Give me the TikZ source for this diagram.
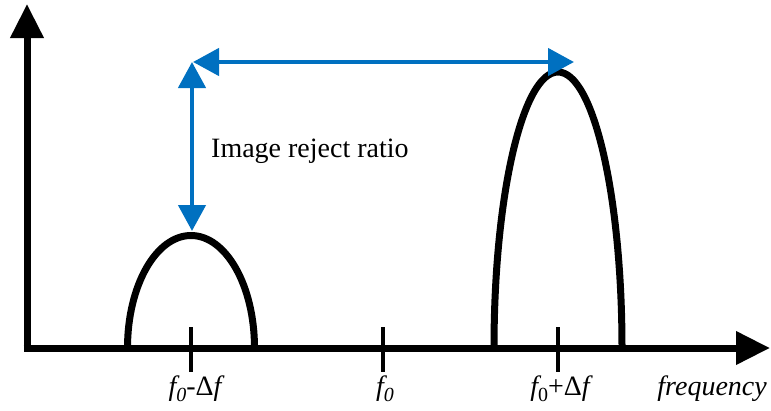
\documentclass[tikz,border=0pt]{standalone}
\usepackage{fontspec}
\setmainfont{Liberation Serif}
\usetikzlibrary{arrows.meta}
\definecolor{irblue}{HTML}{0070C0}
\tikzset{
  axisline/.style={line width=7pt,-{Triangle[length=34pt,width=32pt]}},
  lobe/.style={line width=7pt},
  tickmark/.style={line width=4pt},
  bluearrow/.style={irblue,line width=4.5pt,{Triangle[length=26pt,width=27pt]}-{Triangle[length=26pt,width=27pt]}},
  lbl/.style={font=\fontsize{28}{32}\selectfont,inner sep=0pt}
}
\newcommand{\fzero}{{\itshape f}\raisebox{-0.22em}{\fontsize{20}{22}\selectfont\itshape 0}}
\begin{document}
\begin{tikzpicture}[x=1pt,y=-1pt]
\useasboundingbox (0,0) rectangle (771,410);
% axes
\coordinate (O) at (27,348);
\coordinate (Ytip) at (27,4);
\coordinate (Xtip) at (770,348);
\draw[axisline] (27,351.5) -- (Ytip);
\draw[axisline] (23.5,348) -- (Xtip);
% ticks
\foreach \n/\x in {a/191,b/383,c/558}{
  \draw[tickmark] (\x,327) -- (\x,372);
}
% lobes
\draw[lobe] (127.5,348) arc[start angle=180,end angle=360,x radius=63.5,y radius=112.5];
\draw[lobe] (494,348) arc[start angle=180,end angle=360,x radius=64,y radius=276];
% blue arrows
\coordinate (corner) at (192,62);
\coordinate (lowpeak) at (192,231);
\coordinate (highpeak) at (574,62);
\draw[bluearrow] (corner) -- (lowpeak);
\draw[bluearrow] (193,62) -- (highpeak);
% labels
\node[lbl,anchor=base west] (irr) at (211,157) {Image reject ratio};
\node[lbl,anchor=base] (l1) at (195,395) {\fzero-Δ{\itshape f}};
\node[lbl,anchor=base] (l2) at (385,395) {\fzero};
\node[lbl,anchor=base] (l3) at (560,395) {{\itshape f}\raisebox{-0.22em}{\fontsize{20}{22}\selectfont 0}+Δ{\itshape f}};
\node[lbl,anchor=base east] (l4) at (767,395) {\itshape frequency};
\end{tikzpicture}
\end{document}
